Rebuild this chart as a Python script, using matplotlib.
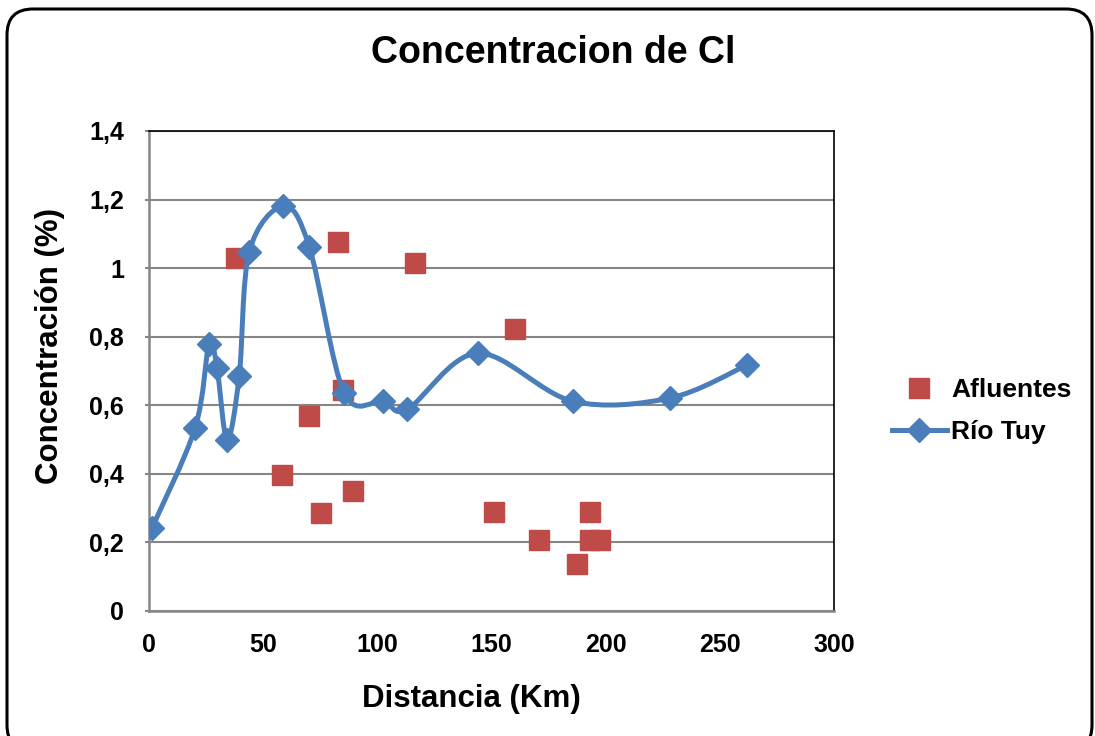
import numpy as np
import matplotlib
matplotlib.use("Agg")
import matplotlib.pyplot as plt
from matplotlib.path import Path
from matplotlib.patches import PathPatch, FancyBboxPatch
from matplotlib.lines import Line2D
from matplotlib.transforms import IdentityTransform

# Datos
tuy_dist = [1.3, 20.2, 26.3, 29.8, 34.2, 39.5, 43.9, 58.8, 70.2, 85.5,
            102.6, 113.2, 143.9, 185.5, 228.1, 261.8]
tuy_conc = [0.242, 0.534, 0.779, 0.709, 0.499, 0.685, 1.047, 1.181, 1.062, 0.636,
            0.612, 0.589, 0.752, 0.612, 0.621, 0.717]

afl_dist = [38.2, 82.9, 116.7, 160.5, 85.1, 70.2, 58.3, 75.4, 89.5, 150.9,
            170.6, 187.3, 193.0, 193.0, 197.4]
afl_conc = [1.029, 1.076, 1.015, 0.822, 0.645, 0.569, 0.397, 0.286, 0.350, 0.289,
            0.207, 0.137, 0.289, 0.207, 0.207]

yticks = [0, 0.2, 0.4, 0.6, 0.8, 1, 1.2, 1.4]
ytick_labels = ["0", "0,2", "0,4", "0,6", "0,8", "1", "1,2", "1,4"]
xticks = [0, 50, 100, 150, 200, 250, 300]

azul = "#4A7EBB"
rojo = "#BE4B48"
gris = "#868686"

plt.rcParams['font.family'] = ['Liberation Sans', 'DejaVu Sans']
plt.rcParams['font.weight'] = 'bold'

fig = plt.figure(figsize=(10.95, 7.36), dpi=100)
W, H = 1095, 736
ax = fig.add_axes([149 / W, 1 - 611 / H, (834 - 149) / W, (611 - 131) / H])

# marco redondeado (en pixeles)
marco = FancyBboxPatch((7, -15), 1085, H - 9 + 15,
                       boxstyle="round,pad=0,rounding_size=26",
                       transform=IdentityTransform(), facecolor="none",
                       edgecolor="black", linewidth=2.2, clip_on=False)
fig.patches.append(marco)

# linea suavizada (bezier tipo Excel) a partir de los puntos
pts = np.column_stack([tuy_dist, tuy_conc])
ext = np.vstack([pts[0], pts, pts[-1]])
verts = [tuple(pts[0])]
codes = [Path.MOVETO]
for i in range(len(pts) - 1):
    p0, p1, p2, p3 = ext[i], ext[i + 1], ext[i + 2], ext[i + 3]
    c1 = p1 + (p2 - p0) / 6
    c2 = p2 - (p3 - p1) / 6
    verts += [tuple(c1), tuple(c2), tuple(p2)]
    codes += [Path.CURVE4] * 3
ax.add_patch(PathPatch(Path(verts, codes), facecolor="none", edgecolor=azul,
                       linewidth=3.6, zorder=3, capstyle="round"))
ax.plot(tuy_dist, tuy_conc, linestyle="none", marker="D", markersize=12,
        color=azul, zorder=4)

ax.plot(afl_dist, afl_conc, linestyle="none", marker="s", markersize=14,
        color=rojo, zorder=2)

ax.set_xlim(0, 300)
ax.set_ylim(0, 1.4)
ax.set_xticks(xticks)
ax.set_yticks(yticks)
ax.set_yticklabels(ytick_labels)
ax.tick_params(axis="y", length=3, color=gris, width=1.5, labelsize=18, pad=15)
ax.tick_params(axis="x", length=0, labelsize=18, pad=16)
ax.yaxis.grid(True, color=gris, linewidth=1.5)
ax.set_axisbelow(True)
for s in ["left", "bottom"]:
    ax.spines[s].set_color(gris)
    ax.spines[s].set_linewidth(1.8)
for s in ["top", "right"]:
    ax.spines[s].set_color("black")
    ax.spines[s].set_linewidth(1.2)

fig.text(553 / W, 1 - 53 / H, "Concentracion de Cl", ha="center", va="center",
         fontsize=27, fontweight="bold")
fig.text(471 / W, 1 - 699 / H, "Distancia (Km)", ha="center", va="center",
         fontsize=22.5, fontweight="bold")
fig.text(50 / W, 1 - 346 / H, "Concentración (%)", ha="center", va="center",
         rotation=90, fontsize=22.5, fontweight="bold")

handles = [Line2D([], [], linestyle="none", marker="s", markersize=14, color=rojo),
           Line2D([], [], color=azul, linewidth=3.6, marker="D", markersize=12)]
fig.legend(handles, ["Afluentes", "Río Tuy"], loc="center left",
           bbox_to_anchor=(868 / W, 1 - 411 / H), frameon=False, fontsize=19,
           handlelength=2.1, handletextpad=0.15, labelspacing=0.7)

fig.savefig("out.png", dpi=100)
